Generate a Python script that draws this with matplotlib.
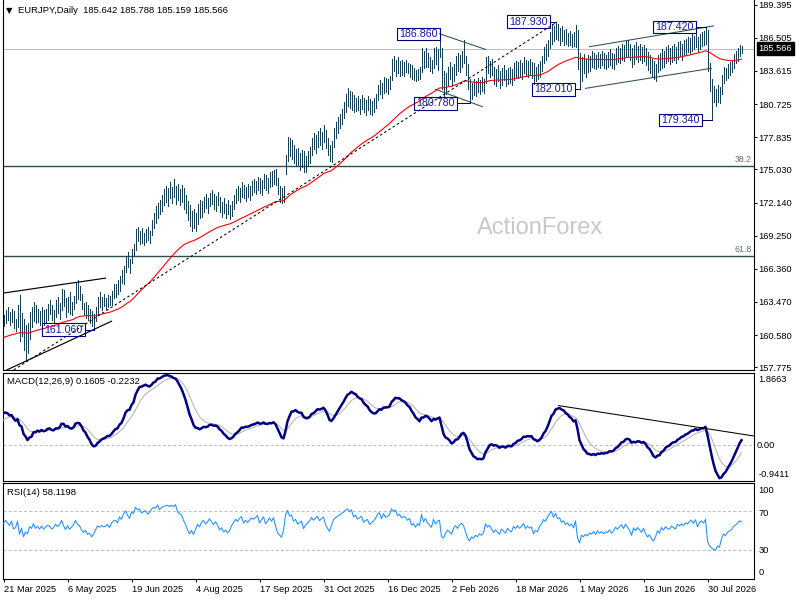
import matplotlib
matplotlib.use("Agg")
import matplotlib.pyplot as plt
from matplotlib.patches import Rectangle
import numpy as np

plt.rcParams['font.family'] = ['Liberation Sans', 'DejaVu Sans']
plt.rcParams['lines.scale_dashes'] = False

# ---------------- data ----------------
symbol = "EURJPY"
timeframe = "Daily"
last_open, last_high, last_low, last_close = 185.642, 185.788, 185.159, 185.566
macd_title_vals = (0.1605, -0.2232)
rsi_title_val = 58.1198

highs = [
    162.3,162.8,163.0,162.6,162.9,162.7,162.0,163.2,164.1,162.5,
    162.0,161.5,161.6,162.6,163.0,163.5,163.2,162.9,162.7,163.0,
    162.8,162.9,163.3,163.6,163.2,162.8,163.6,163.9,163.4,164.6,
    164.5,163.8,163.9,164.3,163.5,164.0,165.1,165.4,164.9,164.2,
    163.4,163.5,163.2,162.9,162.7,162.4,163.0,163.9,164.3,163.9,
    164.2,163.8,164.1,164.0,164.4,165.0,
    165.0,165.4,165.7,166.3,166.6,167.4,167.8,167.2,168.1,168.5,
    169.8,170.0,169.7,169.9,169.5,169.8,170.0,169.7,170.6,171.2,
    171.8,172.1,172.4,172.8,173.3,173.6,173.4,173.9,173.5,174.2,
    173.6,173.8,173.3,173.7,173.4,172.8,172.3,171.9,171.4,171.6,
    171.2,172.0,172.4,172.3,
    172.6,172.9,172.5,173.0,173.2,172.9,172.7,173.1,172.6,172.2,
    172.5,172.0,172.4,171.9,172.3,172.8,173.3,173.6,173.4,173.9,
    173.7,173.5,173.8,173.6,174.0,174.2,174.0,174.4,174.3,174.1,
    174.6,174.5,174.3,174.8,174.9,175.0,175.1,174.3,173.6,173.4,
    173.6,
    176.3,177.9,177.8,177.6,177.2,176.8,176.9,176.5,176.7,176.6,
    176.2,176.6,177.0,177.8,178.2,178.0,178.4,178.6,178.3,178.9,
    178.5,177.8,177.2,177.5,178.6,179.2,179.6,179.9,180.3,180.9,
    181.6,182.1,181.9,181.8,181.5,181.3,181.4,181.2,181.5,181.3,
    181.1,181.4,181.2,181.0,181.3,181.6,182.4,182.8,182.6,183.1,
    183.0,182.9,183.2,184.7,184.9,184.6,184.8,184.5,
    184.6,184.4,184.6,184.3,184.2,184.1,183.9,183.7,183.8,184.0,
    185.6,185.4,185.6,185.2,184.8,184.6,185.6,185.7,185.5,186.86,
    185.6,183.6,183.4,184.0,184.4,184.0,184.2,184.9,185.2,185.0,
    185.4,186.3,184.9,184.2,182.9,182.6,182.9,182.7,183.0,182.8,
    183.1,182.9,184.8,184.9,184.5,184.7,184.0,183.8,184.1,183.6,
    183.9,184.1,183.7,183.9,184.0,183.8,184.3,184.5,184.4,184.6,
    184.3,184.8,184.6,184.5,184.7,184.4,184.3,184.0,184.2,184.5,
    184.9,185.7,186.0,186.3,187.0,187.7,187.5,187.93,
    187.7,187.4,187.5,187.2,187.3,186.9,187.1,186.8,187.0,187.6,
    187.2,185.2,184.8,185.1,184.7,185.0,184.9,185.4,185.2,185.0,
    185.3,185.1,185.4,185.2,185.0,185.3,185.5,185.2,185.1,185.6,
    185.8,185.6,186.0,185.9,186.2,186.3,186.0,185.6,185.9,186.1,
    185.8,186.0,185.7,185.9,185.6,185.3,185.0,184.7,184.5,184.2,
    185.0,185.2,185.5,185.4,185.7,185.9,185.6,185.8,186.0,185.7,
    186.1,186.2,186.0,186.3,186.4,186.6,186.5,186.8,186.7,186.9,
    186.6,186.8,187.0,187.1,187.42,
    187.2,184.3,182.9,182.3,182.0,182.4,182.2,183.3,184.0,183.9,
    184.2,184.4,184.6,185.1,185.4,185.6,185.9,185.788,
]

lows = [
    161.4,161.6,161.9,161.5,161.7,161.2,160.9,161.3,160.1,160.5,
    159.3,158.3,159.0,160.2,161.3,161.8,161.6,161.7,161.5,161.7,
    161.5,161.6,161.9,162.4,161.9,161.7,162.2,162.5,162.0,162.8,
    163.1,162.2,162.6,162.4,162.3,162.9,163.4,163.7,163.6,162.9,
    162.3,162.1,161.9,161.6,161.4,161.06,161.8,162.3,163.0,162.8,
    163.1,162.9,163.0,163.2,163.2,163.8,
    163.9,164.2,164.4,165.1,165.0,166.1,166.5,166.0,166.9,167.5,
    168.0,168.8,168.5,168.6,168.4,168.7,168.9,168.6,169.3,169.9,
    170.4,170.8,171.1,171.4,171.9,172.2,171.8,172.5,172.1,172.6,
    172.0,172.4,171.9,172.2,171.6,171.2,170.6,170.1,169.7,169.9,
    169.7,170.3,170.8,170.9,
    171.3,171.7,171.2,171.8,172.0,171.6,171.4,171.9,171.3,170.9,
    171.2,170.8,171.1,170.7,171.0,171.6,172.1,172.4,172.2,172.6,
    172.5,172.3,172.6,172.4,172.8,173.1,172.9,173.2,173.0,172.8,
    173.4,173.2,173.0,173.5,173.6,173.8,173.7,172.9,172.2,172.1,
    172.2,
    174.6,175.8,176.2,175.9,175.6,175.3,175.4,175.0,175.2,174.8,
    174.8,175.3,175.6,176.3,176.8,176.5,177.0,177.2,176.8,177.4,
    176.9,176.3,175.8,175.7,177.0,177.8,178.2,178.6,179.0,179.5,
    180.0,180.6,180.4,180.2,180.0,180.1,180.2,179.9,180.3,180.0,
    179.8,180.2,179.9,179.8,180.0,180.4,181.1,181.6,181.3,181.7,
    181.8,181.6,182.0,182.8,183.6,183.2,183.4,183.2,
    183.3,183.2,183.5,183.4,183.1,182.9,182.8,182.7,182.8,182.9,
    183.5,183.9,184.0,184.0,183.6,183.4,183.9,184.2,183.7,184.8,
    182.0,181.4,181.6,182.4,182.9,182.3,182.7,183.3,183.6,183.5,
    184.0,184.3,183.3,182.0,180.78,181.2,181.5,181.4,181.8,181.6,
    181.9,181.7,182.6,183.4,183.1,183.3,182.5,182.3,182.7,182.1,
    182.4,182.8,182.3,182.5,182.6,182.4,182.8,183.1,183.0,183.2,
    182.9,183.4,183.2,183.1,183.3,183.0,182.5,182.7,182.9,183.1,
    183.6,184.3,184.6,184.9,185.6,186.0,186.2,186.4,
    186.3,185.9,186.2,185.9,186.0,185.8,185.9,185.7,185.8,185.7,
    183.8,182.01,182.7,183.4,183.1,183.5,183.6,184.0,183.9,183.8,
    184.0,183.9,184.1,183.9,183.8,184.0,184.1,183.9,183.8,184.2,
    184.4,184.3,184.6,184.5,184.8,184.9,184.6,184.0,184.2,184.7,
    184.4,184.6,184.3,184.5,184.1,183.7,183.4,183.1,182.9,182.7,
    183.5,183.7,183.9,184.0,184.3,184.5,184.2,184.4,184.6,184.3,
    184.7,184.9,184.6,185.0,185.1,185.3,185.2,185.4,185.5,185.7,
    185.3,185.5,185.8,185.9,186.0,
    183.6,181.9,179.34,180.9,180.6,180.9,180.8,181.6,182.6,182.8,
    183.0,183.3,183.5,183.9,184.3,184.5,184.9,185.159,
]

closes = [
    161.9,162.5,162.2,161.8,162.6,161.5,161.7,162.9,160.6,161.9,
    159.8,160.9,160.4,162.2,161.8,163.1,162.0,162.6,161.9,162.7,
    162.0,162.5,163.0,162.8,162.2,162.5,163.3,162.9,163.2,164.3,
    163.4,162.6,163.5,162.8,163.2,163.8,164.8,164.1,163.9,163.1,
    162.6,163.0,162.2,162.4,161.7,162.1,162.8,163.6,163.4,163.7,
    163.5,163.6,163.9,163.5,164.2,164.6,
    164.7,164.4,165.5,165.2,166.3,167.1,166.6,166.2,167.8,167.6,
    169.5,169.2,169.4,168.9,169.3,169.6,169.2,169.5,170.4,171.0,
    170.9,171.9,171.4,172.0,172.4,172.5,172.7,172.6,172.9,172.8,
    173.3,172.7,172.5,172.4,171.9,171.5,170.9,170.4,170.8,170.3,
    170.9,171.6,171.3,172.0,
    172.3,171.9,172.2,172.7,172.4,172.1,172.5,172.2,171.6,171.9,
    171.4,171.6,171.3,171.5,172.1,172.5,173.0,172.8,173.2,173.5,
    172.9,173.3,173.1,173.4,173.7,173.6,173.8,174.1,173.5,173.9,
    174.3,173.7,174.0,174.5,174.2,174.7,173.9,173.1,172.8,172.5,
    173.3,
    176.0,177.4,176.6,176.9,176.0,176.4,175.7,175.9,176.3,175.1,
    175.8,176.2,176.7,177.5,177.1,177.6,178.0,177.4,177.9,178.2,
    177.2,176.6,176.1,177.2,178.4,178.9,179.3,179.6,180.0,180.3,
    180.9,181.2,180.9,181.4,180.6,181.0,180.5,180.8,181.1,180.4,
    180.7,180.9,180.3,180.6,180.9,181.3,182.1,182.4,181.8,182.8,
    182.4,182.6,182.9,184.3,184.0,184.4,183.8,184.1,
    183.7,184.0,183.9,183.6,183.9,183.2,183.4,183.0,183.5,183.3,
    185.2,184.3,185.0,184.4,184.1,183.8,185.3,184.6,185.2,185.4,
    182.5,182.1,183.0,183.6,183.3,182.8,183.9,184.5,184.0,184.7,
    185.1,184.7,183.6,182.3,181.5,182.2,181.9,182.4,182.1,182.6,
    182.3,182.7,184.4,183.8,184.2,183.6,182.9,183.4,183.0,182.6,
    183.5,183.1,182.8,183.6,183.2,183.0,183.9,183.6,184.1,183.7,
    184.0,184.5,183.8,184.2,183.9,184.1,183.1,183.6,183.4,184.2,
    184.6,185.4,185.2,186.0,186.7,187.3,186.6,187.6,
    186.9,187.1,186.5,186.8,186.3,186.6,186.2,186.5,186.0,187.2,
    184.2,182.8,184.3,183.9,184.4,184.0,184.6,184.3,184.8,184.2,
    184.9,184.4,184.7,184.3,184.6,184.5,184.9,184.4,184.7,185.3,
    185.0,185.4,185.7,185.2,185.9,185.5,185.1,184.3,185.4,185.0,
    185.5,185.2,184.8,185.4,184.6,184.0,184.3,183.6,183.2,183.7,
    184.6,184.2,185.1,184.7,185.3,185.0,184.9,185.4,185.2,185.0,
    185.7,185.5,185.8,185.6,186.0,185.9,186.2,186.4,186.1,186.6,
    185.9,186.5,186.7,186.5,187.0,
    184.0,182.9,182.3,181.9,181.7,182.2,181.9,183.0,183.7,183.4,
    183.9,184.1,184.3,184.8,185.0,185.3,185.7,185.566,
]

# indicator seeds (state before the first visible bar)
ma_seed = 160.3
ema12_seed, ema26_seed = 161.45, 160.60
signal_seed = 0.60
rsi_prev_close, rsi_avg_gain_seed, rsi_avg_loss_seed = 161.7, 0.32, 0.25

# axis labels
date_labels = ["21 Mar 2025", "6 May 2025", "19 Jun 2025", "4 Aug 2025",
               "17 Sep 2025", "31 Oct 2025", "16 Dec 2025", "2 Feb 2026",
               "18 Mar 2026", "1 May 2026", "16 Jun 2026", "30 Jul 2026"]
bars_per_label = 32
price_ticks = [189.395, 186.505, 183.615, 180.725, 177.835, 175.030,
               172.140, 169.250, 166.360, 163.470, 160.580, 157.775]
macd_range = (-0.9411, 1.8663)

# fibonacci levels
fib_names = ["38.2", "61.8"]
fib_prices = [175.30, 167.44]

# swing labels
swing_bars = [45, 218, 233, 276, 288, 351, 354]
swing_prices = [161.06, 186.86, 180.78, 187.93, 182.01, 187.42, 179.34]

# trendline anchors (bar, price)
wedge_upper = [(0, 164.25), (51, 165.55)]
wedge_lower = [(11, 158.30), (45, 161.06)]
wedge_lower_span = (0, 54)
long_trend = [(11, 158.20), (276, 187.80)]
long_trend_span = (3, 276)
tri_upper = [(218, 186.86), (241, 185.50)]
tri_lower = [(216, 182.02), (239.5, 180.50)]
chan_upper = [(293, 185.73), (355, 187.54)]
chan_lower = [(291, 182.10), (354, 183.85)]
macd_trend = [(277.5, 1.02), (375, 0.23)]

# ---------------- computations ----------------
H = np.array(highs, dtype=float)
L = np.array(lows, dtype=float)
C = np.array(closes, dtype=float)
assert len(H) == len(L) == len(C), (len(H), len(L), len(C))
n = len(C)
idx = np.arange(n)


def ema(series, period, seed):
    a = 2.0 / (period + 1)
    out = np.empty(len(series))
    v = seed
    for k, s in enumerate(series):
        v = v + a * (s - v)
        out[k] = v
    return out


ma = ema(C, 55, ma_seed)
macd = ema(C, 12, ema12_seed) - ema(C, 26, ema26_seed)
signal = ema(macd, 9, signal_seed)

ag, al, prev = rsi_avg_gain_seed, rsi_avg_loss_seed, rsi_prev_close
rsi = np.empty(n)
for k, c in enumerate(C):
    d = c - prev
    prev = c
    ag = (ag * 13 + max(d, 0.0)) / 14
    al = (al * 13 + max(-d, 0.0)) / 14
    rsi[k] = 100 - 100 / (1 + ag / al)

# ---------------- figure ----------------
W, HH = 800, 600
fig = plt.figure(figsize=(8, 6), dpi=100)
fig.patch.set_facecolor('white')


def rect(x0, y0, x1, y1):
    return [x0 / W, 1 - y1 / HH, (x1 - x0) / W, (y1 - y0) / HH]


def fx(x):
    return x / W


def fy(y):
    return 1 - y / HH


AX_L, AX_R = 2.5, 754
ax = fig.add_axes(rect(AX_L, 0, AX_R, 370))
axm = fig.add_axes(rect(AX_L, 373, AX_R, 481))
axr = fig.add_axes(rect(AX_L, 482.5, AX_R, 578.5))

xmin = -0.5
xmax = xmin + (AX_R - AX_L) / 2.0
ymin, ymax = 157.538, 189.805

for a in (ax, axm, axr):
    a.set_xlim(xmin, xmax)
    a.set_facecolor('white')
    for s in a.spines.values():
        s.set_color('black')
        s.set_linewidth(0.8)
    a.tick_params(axis='x', bottom=False, labelbottom=False)
    a.tick_params(axis='y', left=False, labelleft=False)
ax.spines['top'].set_visible(False)

px_per_bar = (AX_R - AX_L) / (xmax - xmin)
px_per_unit = 370.0 / (ymax - ymin)

# ----- main price panel -----
ax.set_ylim(ymin, ymax)
ax.yaxis.tick_right()
ax.set_yticks(price_ticks)
ax.set_yticklabels([f"{t:.3f}" for t in price_ticks])
ax.tick_params(axis='y', right=True, labelright=True, direction='out',
               length=2.2, width=0.7, pad=1.2, labelsize=6.7, colors='black')

ax.text(0.715, 0.385, "ActionForex", transform=ax.transAxes,
        fontsize=17, color='#c8c8c8', ha='center', va='center', zorder=0)

ax.axhline(last_close, color='#c0c0c0', lw=0.8, zorder=1)
for nm, lv in zip(fib_names, fib_prices):
    ax.axhline(lv, color='#2f4f4f', lw=1.0, zorder=2)
    ax.annotate(nm, xy=(1, lv), xycoords=('axes fraction', 'data'),
                xytext=(-1.5, 1.8), textcoords='offset points',
                ha='right', va='bottom', fontsize=6.3, color='#607474')

ax.vlines(idx, L, H, colors='#173f56', linewidth=0.72, antialiased=False, zorder=3)
ax.plot(idx, ma, color='#ff0000', lw=0.8, zorder=4)


def seg(anchors, span=None):
    (b0, p0), (b1, p1) = anchors
    if span is None:
        span = (b0, b1)
    xs = np.array(span, dtype=float)
    ys = p0 + (xs - b0) * (p1 - p0) / (b1 - b0)
    return xs, ys


xs, ys = seg(wedge_upper)
ax.plot(xs, ys, color='black', lw=0.85, zorder=5)
xs, ys = seg(wedge_lower, wedge_lower_span)
ax.plot(xs, ys, color='black', lw=0.85, zorder=5)
xs, ys = seg(long_trend, long_trend_span)
ax.plot(xs, ys, color='black', lw=0.75, ls=(0, (1.8, 1.8)), zorder=5)
for anc in (tri_upper, tri_lower, chan_upper, chan_lower):
    xs, ys = seg(anc)
    ax.plot(xs, ys, color='#2f4f4f', lw=0.75, zorder=5)

label_gap_px = [9, 0, 13, 6, 5, 10, 10]
box_w_bars = 42.5 / px_per_bar
box_h = 12.3 / px_per_unit
for b, p, g in zip(swing_bars, swing_prices, label_gap_px):
    right = b - g / px_per_bar
    ax.add_patch(Rectangle((right - box_w_bars, p - box_h / 2), box_w_bars, box_h,
                           fill=False, ec='#000080', lw=0.8, zorder=7))
    if g > 0:
        ax.plot([right, b], [p, p], color='#000080', lw=0.75, zorder=7)
    ax.text(right - box_w_bars / 2, p, f"{p:.3f}", ha='center', va='center',
            fontsize=7.7, color='#1a1a9c', zorder=8)

ax.annotate(f"{last_close:.3f}", xy=(1, last_close), xycoords=('axes fraction', 'data'),
            xytext=(3.3, 0), textcoords='offset points', ha='left', va='center',
            fontsize=6.7, color='white', annotation_clip=False,
            bbox=dict(boxstyle='square,pad=0.18', fc='black', ec='black'))

fig.text(fx(9.5), fy(10.2), "\u25BC", fontsize=6, ha='center', va='center',
         family=['DejaVu Sans'], color='black')
fig.text(fx(18), fy(10.5),
         f"{symbol},{timeframe}  {last_open:.3f} {last_high:.3f} {last_low:.3f} {last_close:.3f}",
         fontsize=6.8, ha='left', va='center', color='black')

# ----- MACD panel -----
axm.set_ylim(*macd_range)
axm.axhline(0, color='#c0c0c0', lw=0.75, ls=(0, (2.2, 1.5)))
axm.plot(idx, signal, color='#b4b4b4', lw=0.75, zorder=3)
axm.plot(idx, macd, color='#000080', lw=1.8, zorder=4)
xs, ys = seg(macd_trend)
axm.plot(xs, ys, color='black', lw=0.75, zorder=5)
fig.text(fx(7.3), fy(381.5), f"MACD(12,26,9) {macd_title_vals[0]:.4f} {macd_title_vals[1]:.4f}",
         fontsize=6.8, ha='left', va='center', color='black')
fig.text(fx(758.3), fy(380), f"{macd_range[1]:.4f}", fontsize=6.7, va='center')
fig.text(fx(757), fy(445), "0.00", fontsize=6.7, va='center')
fig.text(fx(758.3), fy(474.3), f"{macd_range[0]:.4f}", fontsize=6.7, va='center')

# ----- RSI panel -----
axr.set_ylim(0, 100)
for lv in (70, 30):
    axr.axhline(lv, color='#c0c0c0', lw=0.75, ls=(0, (2.2, 1.5)))
axr.plot(idx, rsi, color='#1e90ff', lw=0.75, zorder=3)
fig.text(fx(7.3), fy(492.5), f"RSI(14) {rsi_title_val:.4f}",
         fontsize=6.8, ha='left', va='center', color='black')
for txt, yy in (("100", 490.3), ("70", 513), ("30", 550.3), ("0", 572.3)):
    fig.text(fx(758.3), fy(yy), txt, fontsize=6.7, va='center')

tick_bars = np.arange(len(date_labels)) * bars_per_label
axr.set_xticks(tick_bars)
axr.tick_params(axis='x', bottom=True, labelbottom=False, direction='out',
                length=2.4, width=0.7, colors='black')
for b, lab in zip(tick_bars, date_labels):
    xpx = AX_L + (b - xmin) * px_per_bar
    fig.text(fx(xpx + 0.5), fy(590), lab, fontsize=6.7, ha='left', va='center')

fig.savefig("out.png", dpi=100, facecolor='white')
